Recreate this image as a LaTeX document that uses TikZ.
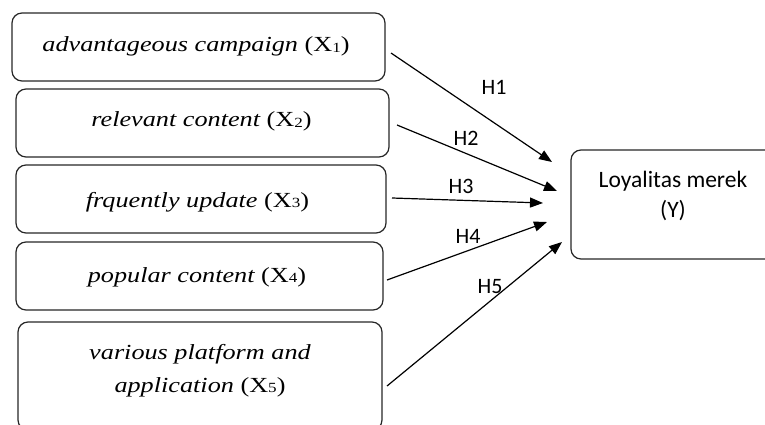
\documentclass[tikz,border=0pt]{standalone}
\usepackage{fontspec}
\setmainfont{Liberation Serif}
\newfontfamily\boxfont[FakeStretch=1.22]{Liberation Serif}
\newfontfamily\labfont{Carlito}
\usetikzlibrary{arrows.meta}
% small lowered index for the variable names
\newcommand{\varidx}[1]{\raisebox{-0.6pt}{\fontsize{14}{14}\selectfont #1}}
\begin{document}
\begin{tikzpicture}[x=1pt,y=-1pt,
  varbox/.style={draw=black!85, line width=1.2pt, rounded corners=10pt, inner sep=0pt},
  vartext/.style={font=\boxfont\fontsize{21.5}{32}\selectfont, anchor=base, inner sep=0pt, align=center},
  hyplabel/.style={font=\labfont\fontsize{22}{26}\selectfont, anchor=base, inner sep=0pt},
  yText/.style={font=\labfont\fontsize{23.5}{30}\selectfont, anchor=base, inner sep=0pt},
  hyparrow/.style={line width=1.2pt, -{Triangle[length=13pt,width=10pt]}}]
\useasboundingbox (0,0) rectangle (765,425);
\clip (0,0) rectangle (765,425);
% left-hand variable boxes
\node[varbox, minimum width=373pt, minimum height=68pt] (b1) at (198.5,47) {};
\node[varbox, minimum width=373pt, minimum height=68pt] (b2) at (202.5,123) {};
\node[varbox, minimum width=370pt, minimum height=68pt] (b3) at (201,199) {};
\node[varbox, minimum width=367pt, minimum height=68pt] (b4) at (199.5,276) {};
\node[varbox, minimum width=364pt, minimum height=108pt] (b5) at (200,376) {};
% dependent variable box
\node[varbox, minimum width=209pt, minimum height=109pt] (y) at (675.5,204.5) {};
% box texts
\node[vartext] (t1) at (196,52) {\itshape advantageous campaign \upshape(X\varidx{1})};
\node[vartext] (t2) at (201.5,127) {\itshape relevant content \upshape(X\varidx{2})};
\node[vartext] (t3) at (197.5,207) {\itshape frquently update \upshape(X\varidx{3})};
\node[vartext] (t4) at (197,282) {\itshape popular content \upshape(X\varidx{4})};
\node[vartext] (t5a) at (200,359) {\itshape various platform and};
\node[vartext] (t5b) at (200,392) {\itshape application \upshape(X\varidx{5})};
\node[yText] (ty1) at (673,187) {Loyalitas merek};
\node[yText] (ty2) at (673,217) {(Y)};
% arrow end points
\coordinate (s1) at (391,53);  \coordinate (e1) at (552,162);
\coordinate (s2) at (397,125); \coordinate (e2) at (557,191);
\coordinate (s3) at (392,198); \coordinate (e3) at (543,203);
\coordinate (s4) at (387,280); \coordinate (e4) at (547,222);
\coordinate (s5) at (387,386); \coordinate (e5) at (562,242);
\draw[hyparrow] (s1) -- (e1);
\draw[hyparrow] (s2) -- (e2);
\draw[hyparrow] (s3) -- (e3);
\draw[hyparrow] (s4) -- (e4);
\draw[hyparrow] (s5) -- (e5);
% hypothesis labels
\node[hyplabel] (h1) at (494,95) {H1};
\node[hyplabel] (h2) at (466,145) {H2};
\node[hyplabel] (h3) at (461,193) {H3};
\node[hyplabel] (h4) at (468,243) {H4};
\node[hyplabel] (h5) at (490,293) {H5};
\end{tikzpicture}
\end{document}
